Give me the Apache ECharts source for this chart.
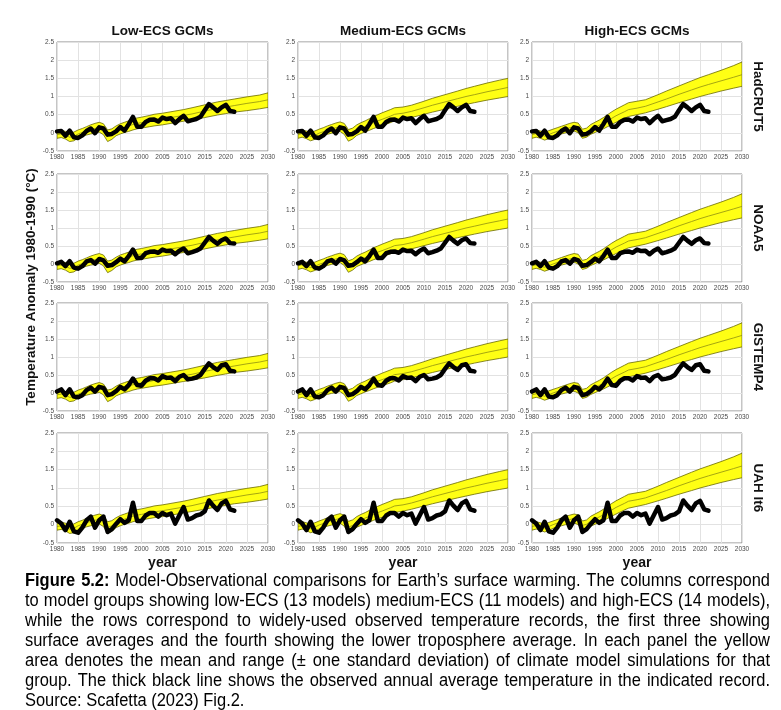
<!DOCTYPE html>
<html><head><meta charset="utf-8">
<script src="https://cdn.jsdelivr.net/npm/echarts@6/dist/echarts.min.js"></script>
<style>html,body{margin:0;padding:0;background:#fff}#c{width:781px;height:710px}</style>
</head><body><div id="c"></div>
<script>
// ---------------- DATA ----------------
const columnTitles = ['Low-ECS GCMs', 'Medium-ECS GCMs', 'High-ECS GCMs'];
const rowTitles = ['HadCRUT5', 'NOAA5', 'GISTEMP4', 'UAH lt6'];
const yAxisTitle = 'Temperature Anomaly 1980-1990 (°C)';
const xAxisTitle = 'year';

const obsYears = [1980,1981,1982,1983,1984,1985,1986,1987,1988,1989,1990,1991,1992,1993,1994,1995,1996,1997,1998,1999,2000,2001,2002,2003,2004,2005,2006,2007,2008,2009,2010,2011,2012,2013,2014,2015,2016,2017,2018,2019,2020,2021,2022];
const hadcrut5 = [0.04,0.05,-0.08,0.06,-0.12,-0.14,-0.07,0.05,0.12,-0.01,0.15,0.12,-0.05,-0.03,0.04,0.16,0.06,0.24,0.44,0.17,0.17,0.30,0.36,0.37,0.31,0.42,0.38,0.40,0.27,0.38,0.47,0.32,0.35,0.38,0.44,0.62,0.79,0.70,0.60,0.70,0.77,0.60,0.58];
const noaa5 = [0.02,0.06,-0.06,0.08,-0.10,-0.13,-0.06,0.07,0.11,0.01,0.14,0.10,-0.05,-0.03,0.05,0.15,0.07,0.22,0.40,0.17,0.17,0.30,0.34,0.35,0.31,0.40,0.36,0.37,0.27,0.37,0.43,0.30,0.33,0.37,0.43,0.59,0.75,0.65,0.56,0.66,0.71,0.58,0.57];
const gistemp4 = [0.04,0.10,-0.06,0.10,-0.10,-0.12,-0.06,0.08,0.15,0.04,0.17,0.14,-0.06,-0.03,0.05,0.17,0.10,0.22,0.40,0.22,0.20,0.34,0.41,0.41,0.35,0.47,0.42,0.43,0.33,0.45,0.50,0.38,0.40,0.43,0.50,0.67,0.82,0.72,0.64,0.77,0.80,0.62,0.60];
const uahLt6 = [0.12,0.03,-0.15,0.08,-0.18,-0.22,-0.08,0.12,0.22,-0.08,0.12,0.22,-0.20,-0.12,0.02,0.15,0.05,0.12,0.60,0.10,0.10,0.25,0.32,0.32,0.22,0.32,0.26,0.30,0.03,0.26,0.48,0.14,0.18,0.25,0.28,0.36,0.66,0.52,0.40,0.58,0.65,0.42,0.38];

const modelYears = [1980,1981,1982,1983,1984,1985,1986,1987,1988,1989,1990,1991,1992,1993,1994,1995,1996,1997,1998,1999,2000,2002,2003,2005,2007,2010,2012,2015,2018,2020,2022,2025,2028,2030];
const lowLower = [-0.15,-0.13,-0.17,-0.24,-0.22,-0.14,-0.10,-0.06,-0.03,-0.01,0.02,-0.05,-0.24,-0.18,-0.08,-0.03,0.01,0.04,0.08,0.11,0.13,0.17,0.19,0.22,0.26,0.32,0.36,0.42,0.49,0.53,0.57,0.61,0.66,0.70];
const lowMean  = [-0.05,-0.03,-0.06,-0.12,-0.10,-0.03,0.01,0.05,0.09,0.12,0.15,0.10,-0.08,-0.03,0.06,0.11,0.15,0.19,0.23,0.26,0.28,0.32,0.35,0.38,0.42,0.48,0.52,0.60,0.67,0.71,0.75,0.81,0.86,0.91];
const lowUpper = [0.05,0.07,0.04,0.00,0.02,0.08,0.12,0.17,0.22,0.26,0.29,0.25,0.08,0.11,0.19,0.25,0.29,0.33,0.38,0.41,0.43,0.48,0.51,0.54,0.58,0.64,0.69,0.77,0.85,0.89,0.93,0.99,1.04,1.10];
const medLower = [-0.15,-0.12,-0.16,-0.22,-0.18,-0.12,-0.08,-0.04,-0.01,0.01,0.04,-0.04,-0.23,-0.17,-0.07,-0.02,0.03,0.07,0.12,0.16,0.20,0.28,0.33,0.37,0.42,0.51,0.57,0.65,0.73,0.78,0.83,0.90,0.96,1.00];
const medMean  = [-0.05,-0.02,-0.05,-0.10,-0.07,-0.01,0.03,0.07,0.11,0.14,0.17,0.11,-0.07,-0.02,0.08,0.13,0.18,0.23,0.28,0.33,0.37,0.46,0.51,0.54,0.59,0.69,0.76,0.85,0.94,1.00,1.05,1.13,1.20,1.25];
const medUpper = [0.05,0.08,0.05,0.02,0.05,0.10,0.14,0.19,0.23,0.27,0.30,0.26,0.09,0.13,0.22,0.28,0.33,0.39,0.45,0.50,0.55,0.64,0.69,0.71,0.76,0.87,0.95,1.05,1.15,1.22,1.28,1.37,1.45,1.50];
const highLower = [-0.15,-0.12,-0.15,-0.20,-0.16,-0.10,-0.07,-0.03,0.00,0.03,0.05,0.00,-0.15,-0.12,-0.04,0.01,0.06,0.11,0.17,0.23,0.29,0.40,0.45,0.50,0.55,0.65,0.72,0.83,0.93,1.00,1.06,1.15,1.23,1.28];
const highMean  = [-0.05,-0.02,-0.05,-0.09,-0.05,0.00,0.04,0.08,0.11,0.14,0.17,0.13,-0.02,0.01,0.10,0.15,0.21,0.27,0.33,0.40,0.47,0.58,0.64,0.68,0.73,0.85,0.93,1.06,1.18,1.26,1.33,1.43,1.53,1.60];
const highUpper = [0.05,0.08,0.05,0.02,0.06,0.10,0.14,0.18,0.22,0.26,0.29,0.27,0.10,0.13,0.23,0.29,0.35,0.42,0.50,0.58,0.65,0.77,0.83,0.87,0.91,1.05,1.15,1.29,1.43,1.52,1.60,1.72,1.85,1.95];

const captionLines = [
  'Figure 5.2: Model-Observational comparisons for Earth’s surface warming. The columns correspond',
  'to model groups showing low-ECS (13 models) medium-ECS (11 models) and high-ECS (14 models),',
  'while the rows correspond to widely-used observed temperature records, the first three showing',
  'surface averages and the fourth showing the lower troposphere average. In each panel the yellow',
  'area denotes the mean and range (± one standard deviation) of climate model simulations for that',
  'group. The thick black line shows the observed annual average temperature in the indicated record.',
  'Source: Scafetta (2023) Fig.2.'
];
const captionBoldPrefix = 'Figure 5.2:';

// ---------------- LAYOUT ----------------
const colLeft = [57, 298, 532];
const colWidth = [211, 210, 210];
const rowTop = [42, 174, 303, 433];
const rowHeight = [109, 108, 108, 110];

const models = [
  {lower: lowLower, mean: lowMean, upper: lowUpper},
  {lower: medLower, mean: medMean, upper: medUpper},
  {lower: highLower, mean: highMean, upper: highUpper}
];
const observations = [hadcrut5, noaa5, gistemp4, uahLt6];

const FONT = "'Liberation Sans', Arial, sans-serif";
const CAPFONT = "'Liberation Sans', Arial, sans-serif";
const CAP_SIZE = 17.5;
const YELLOW = '#ffff14';
const EDGE = '#6a6a00';
const MEANC = '#8f8f10';

function bandRenderer(m) {
  return function (params, api) {
    if (params.dataIndex !== 0) return null;
    const pts = [];
    for (let i = 0; i < modelYears.length; i++) pts.push(api.coord([modelYears[i], m.upper[i]]));
    for (let i = modelYears.length - 1; i >= 0; i--) pts.push(api.coord([modelYears[i], m.lower[i]]));
    return {type: 'polygon', shape: {points: pts},
      style: {fill: YELLOW, stroke: EDGE, lineWidth: 0.8}};
  };
}

const grids = [], xAxes = [], yAxes = [], series = [];
let gi = 0;
for (let r = 0; r < 4; r++) {
  for (let c = 0; c < 3; c++) {
    grids.push({left: colLeft[c], top: rowTop[r], width: colWidth[c], height: rowHeight[r],
      show: true, borderColor: '#8a8a8a', borderWidth: 1, backgroundColor: '#fff'});
    xAxes.push({gridIndex: gi, type: 'value', min: 1980, max: 2030, interval: 5,
      axisLine: {show: false}, axisTick: {show: false},
      splitLine: {show: true, lineStyle: {color: '#e2e2e2', width: 1}},
      axisLabel: {fontSize: 6.5, color: '#4a4a4a', margin: 3, fontFamily: FONT, hideOverlap: false,
        showMinLabel: true, showMaxLabel: true, formatter: v => String(v)}});
    yAxes.push({gridIndex: gi, type: 'value', min: -0.5, max: 2.5, interval: 0.5,
      axisLine: {show: false}, axisTick: {show: false},
      splitLine: {show: true, lineStyle: {color: '#e2e2e2', width: 1}},
      axisLabel: {fontSize: 6.5, color: '#4a4a4a', margin: 3, fontFamily: FONT,
        showMinLabel: true, showMaxLabel: true, formatter: v => String(v)}});
    const m = models[c];
    series.push({type: 'custom', xAxisIndex: gi, yAxisIndex: gi, silent: true, clip: true, z: 2,
      data: modelYears.map((y, i) => [y, m.lower[i], m.upper[i]]),
      encode: {x: 0, y: [1, 2]},
      renderItem: bandRenderer(m)});
    series.push({type: 'line', xAxisIndex: gi, yAxisIndex: gi,
      data: modelYears.map((y, i) => [y, m.mean[i]]), symbol: 'none', silent: true,
      lineStyle: {color: MEANC, width: 0.8}, z: 3});
    series.push({type: 'line', xAxisIndex: gi, yAxisIndex: gi,
      data: obsYears.map((y, i) => [y, observations[r][i]]), symbol: 'none', silent: true,
      lineStyle: {color: '#000', width: 4.5, cap: 'round', join: 'round'}, z: 4});
    gi++;
  }
}

// ---------------- TEXT GRAPHICS ----------------
const graphics = [];
const colCenters = colLeft.map((l, i) => l + colWidth[i] / 2);
columnTitles.forEach((t, i) => graphics.push({type: 'text', x: colCenters[i], y: 31,
  style: {text: t, fontSize: 13.5, fontWeight: 'bold', fontFamily: FONT, fill: '#111', align: 'center', verticalAlign: 'middle'}}));
rowTitles.forEach((t, i) => graphics.push({type: 'text', x: 758, y: rowTop[i] + rowHeight[i] / 2, rotation: -Math.PI / 2,
  style: {text: t, fontSize: 13.5, fontWeight: 'bold', fontFamily: FONT, fill: '#111', align: 'center', verticalAlign: 'middle'}}));
graphics.push({type: 'text', x: 31, y: 287, rotation: Math.PI / 2,
  style: {text: yAxisTitle, fontSize: 13.5, fontWeight: 'bold', fontFamily: FONT, fill: '#111', align: 'center', verticalAlign: 'middle'}});
colCenters.forEach(cx => graphics.push({type: 'text', x: cx, y: 563,
  style: {text: xAxisTitle, fontSize: 14, fontWeight: 'bold', fontFamily: FONT, fill: '#111', align: 'center', verticalAlign: 'middle'}}));

// caption, justified word by word, horizontally condensed to emulate a narrow face
const cv = document.createElement('canvas').getContext('2d');
function rawW(text, bold) { cv.font = (bold ? 'bold ' : '') + CAP_SIZE + 'px ' + CAPFONT; return cv.measureText(text).width; }
const capLeft = 25, capRight = 770, capTop = 581, capStep = 20;
const firstNatural = rawW(captionBoldPrefix, true) + rawW(captionLines[0].slice(captionBoldPrefix.length), false);
const capScale = Math.max(0.75, Math.min(1, 732 / firstNatural));
function mw(text, bold) { return rawW(text, bold) * capScale; }
captionLines.forEach((line, li) => {
  const words = line.split(' ');
  const toks = [];
  let boldLeft = li === 0 ? captionBoldPrefix.split(' ').length : 0;
  words.forEach(wd => { toks.push({t: wd, b: boldLeft > 0}); boldLeft--; });
  const widths = toks.map(tk => mw(tk.t, tk.b));
  const total = widths.reduce((a, b) => a + b, 0);
  const last = li === captionLines.length - 1;
  const gap = last ? mw(' ', false) : (capRight - capLeft - total) / (toks.length - 1);
  let x = capLeft;
  toks.forEach((tk, j) => {
    graphics.push({type: 'text', x: x, y: capTop + li * capStep, scaleX: capScale,
      style: {text: tk.t, fontSize: CAP_SIZE, fontWeight: tk.b ? 'bold' : 'normal', fontFamily: CAPFONT, fill: '#000', align: 'left', verticalAlign: 'middle'}});
    x += widths[j] + gap;
  });
});

const chart = echarts.init(document.getElementById('c'), null, {renderer: 'canvas'});
chart.setOption({
  backgroundColor: '#fff',
  animation: false,
  grid: grids, xAxis: xAxes, yAxis: yAxes, series: series,
  graphic: graphics
});
</script></body></html>
